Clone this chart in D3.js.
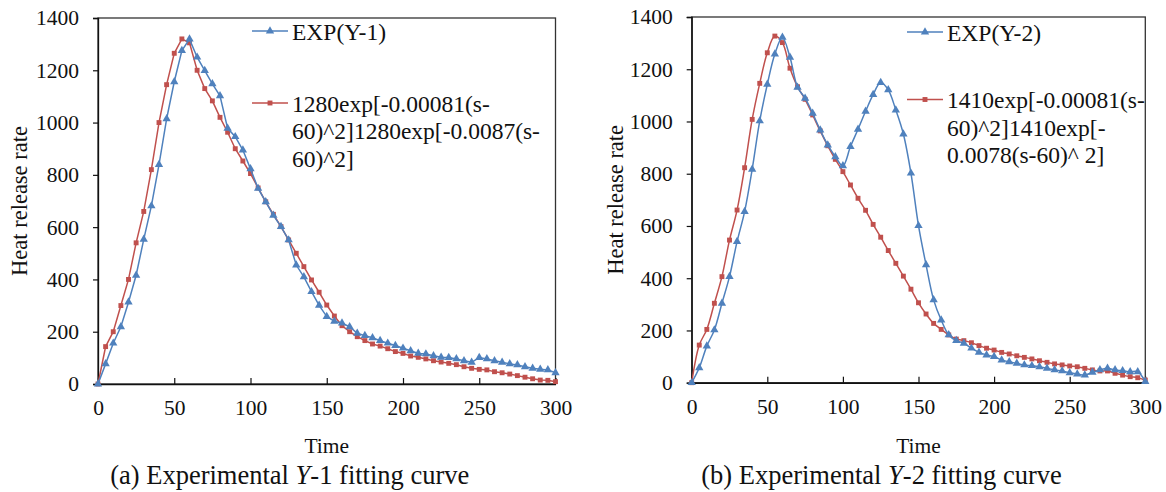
<!DOCTYPE html>
<html>
<head>
<meta charset="utf-8">
<script src="https://cdn.jsdelivr.net/npm/d3@7"></script>
<style>
  html, body { margin: 0; padding: 0; background: #fff; }
  svg { display: block; }
  svg text { font-family: "Liberation Serif", serif !important; fill: #111; }
</style>
</head>
<body>
<svg id="chart" width="1166" height="492" font-family="Liberation Serif"></svg>
<script>
// Time axis (s), sampled every 5 s
const time = [0,5,10,15,20,25,30,35,40,45,50,55,60,65,70,75,80,85,90,95,100,
  105,110,115,120,125,130,135,140,145,150,155,160,165,170,175,180,185,190,195,200,
  205,210,215,220,225,230,235,240,245,250,255,260,265,270,275,280,285,290,295,300];

// Panel (a): measured heat release, test Y-1
const y1Exp = [0,77,156,219,313,416,553,681,839,1014,1156,1275,1319,1250,1199,1148,1102,978,946,895,823,
  748,697,645,602,551,455,410,353,301,258,240,233,219,194,185,177,166,156,147,137,
  127,117,115,108,102,101,96,89,83,101,96,89,83,77,73,66,60,56,54,43];
// Panel (a): fitted curve
const y1Fit = [0,143,200,300,400,540,660,820,1000,1145,1265,1320,1305,1200,1130,1083,1020,963,900,853,805,
  750,697,649,602,551,500,449,398,351,302,260,223,200,181,166,153,145,135,124,117,
  107,102,96,89,84,79,74,66,60,56,54,47,43,38,32,26,20,15,14,9];

// Panel (b): measured heat release, test Y-2
const y2Exp = [0,57,140,202,304,406,540,655,817,1002,1142,1258,1322,1246,1131,1089,1031,967,910,865,830,
  904,970,1039,1103,1149,1121,1044,952,802,601,451,317,240,183,161,151,132,116,106,100,
  87,80,74,68,65,61,55,49,45,38,33,29,40,49,55,49,46,42,42,4];
// Panel (b): fitted curve
const y2Fit = [0,144,204,304,406,546,661,823,1008,1146,1263,1327,1302,1204,1133,1085,1025,964,907,855,808,
  757,706,660,606,557,506,457,408,358,306,263,227,204,183,167,161,153,142,132,125,
  116,110,103,97,91,84,78,72,68,64,61,55,49,45,45,36,29,23,19,10];

const xTicks = [0, 50, 100, 150, 200, 250, 300];
const yTicks = [0, 200, 400, 600, 800, 1000, 1200, 1400];

const xTitle = "Time";
const yTitle = "Heat release rate";

const expLabels = ["EXP(Y-1)", "EXP(Y-2)"];
const fitLabels = [
  ["1280exp[-0.00081(s-", "60)^2]1280exp[-0.0087(s-", "60)^2]"],
  ["1410exp[-0.00081(s-", "60)^2]1410exp[-", "0.0078(s-60)^ 2]"]
];
const captionPrefix = ["(a) Experimental ", "(b) Experimental "];
const captionItalic = ["Y", "Y"];
const captionSuffix = ["-1 fitting curve", "-2 fitting curve"];

const BLUE = "#4F81BD";
const RED = "#C0504D";
const FONT = "Liberation Serif";

const svg = d3.select("#chart");

const panels = [
  { left: 98, right: 555.5, top: 18, bottom: 384, exp: y1Exp, fit: y1Fit,
    curve: d3.curveLinear, titleX: 27, legendX: 252, idx: 0 },
  { left: 691.7, right: 1145.3, top: 17, bottom: 382.7, exp: y2Exp, fit: y2Fit,
    curve: d3.curveCatmullRom.alpha(0.5), titleX: 623, legendX: 907, idx: 1 }
];

panels.forEach(p => {
  const x = d3.scaleLinear().domain([0, 300]).range([p.left, p.right]);
  const y = d3.scaleLinear().domain([0, 1400]).range([p.bottom, p.top]);
  const g = svg.append("g").attr("font-family", FONT);

  // plot frame
  g.append("rect")
    .attr("x", p.left).attr("y", p.top)
    .attr("width", p.right - p.left).attr("height", p.bottom - p.top)
    .attr("fill", "none").attr("stroke", "#333").attr("stroke-width", 1.3);

  // y axis: outward ticks
  const yAxis = g.append("g")
    .attr("transform", `translate(${p.left},0)`)
    .call(d3.axisLeft(y).tickValues(yTicks).tickSize(5).tickPadding(14).tickFormat(d3.format("d")));
  yAxis.attr("font-family", FONT);
  yAxis.select(".domain").attr("stroke", "#111").attr("stroke-width", 1.3);
  yAxis.selectAll(".tick line").attr("stroke", "#111").attr("stroke-width", 1.2);
  yAxis.selectAll("text").attr("font-size", 21.5).attr("fill", "#111");

  // x axis: inward ticks
  const xAxis = g.append("g")
    .attr("transform", `translate(0,${p.bottom})`)
    .call(d3.axisBottom(x).tickValues(xTicks).tickSizeInner(-6).tickSizeOuter(0).tickPadding(16).tickFormat(d3.format("d")));
  xAxis.attr("font-family", FONT);
  xAxis.select(".domain").attr("stroke", "#111").attr("stroke-width", 1.5);
  xAxis.selectAll(".tick line").attr("stroke", "#111").attr("stroke-width", 1.2);
  xAxis.selectAll("text").attr("font-size", 21.5).attr("fill", "#111");

  // axis titles
  const midX = (p.left + p.right) / 2;
  g.append("text").attr("x", midX).attr("y", 453)
    .attr("text-anchor", "middle").attr("font-size", 21.5).text(xTitle);
  g.append("text")
    .attr("transform", `translate(${p.titleX},${(p.top + p.bottom) / 2}) rotate(-90)`)
    .attr("text-anchor", "middle").attr("font-size", 22.5).text(yTitle);

  // caption
  const cap = g.append("text").attr("x", midX - 37).attr("y", 484)
    .attr("text-anchor", "middle").attr("font-size", 26.5);
  cap.append("tspan").text(captionPrefix[p.idx]);
  cap.append("tspan").attr("font-style", "italic").text(captionItalic[p.idx]);
  cap.append("tspan").text(captionSuffix[p.idx]);

  // series
  const rows = time.map((t, i) => ({ t, exp: p.exp[i], fit: p.fit[i] }));
  const series = [
    { key: "fit", color: RED, symbol: d3.symbolSquare, size: 24 },
    { key: "exp", color: BLUE, symbol: d3.symbolTriangle, size: 30 }
  ];
  series.forEach(s => {
    const line = d3.line().x(d => x(d.t)).y(d => y(d[s.key])).curve(p.curve);
    g.append("path").datum(rows)
      .attr("d", line).attr("fill", "none")
      .attr("stroke", s.color).attr("stroke-width", 1.5);
    g.selectAll(null).data(rows).enter().append("path")
      .attr("transform", d => `translate(${x(d.t)},${y(d[s.key])})`)
      .attr("d", d3.symbol().type(s.symbol).size(s.size))
      .attr("fill", s.color);
  });

  // legend
  const lx = p.legendX, lw = 36;
  const blueY = p.idx === 0 ? 31 : 32;
  const redY = p.idx === 0 ? 103 : 99.5;
  const leg = g.append("g");
  leg.append("line").attr("x1", lx).attr("x2", lx + lw).attr("y1", blueY).attr("y2", blueY)
    .attr("stroke", BLUE).attr("stroke-width", 1.5);
  leg.append("path").attr("transform", `translate(${lx + lw / 2},${blueY})`)
    .attr("d", d3.symbol().type(d3.symbolTriangle).size(30)).attr("fill", BLUE);
  leg.append("text").attr("x", lx + lw + 4).attr("y", blueY + 9)
    .attr("font-size", 23.5).text(expLabels[p.idx]);

  leg.append("line").attr("x1", lx).attr("x2", lx + lw).attr("y1", redY).attr("y2", redY)
    .attr("stroke", RED).attr("stroke-width", 1.5);
  leg.append("path").attr("transform", `translate(${lx + lw / 2},${redY})`)
    .attr("d", d3.symbol().type(d3.symbolSquare).size(24)).attr("fill", RED);
  const ft = leg.append("text").attr("x", lx + lw + 4).attr("y", redY + 8.5).attr("font-size", 23.5);
  fitLabels[p.idx].forEach((line, i) => {
    ft.append("tspan").attr("x", lx + lw + 4).attr("dy", i === 0 ? 0 : 27.5).text(line);
  });
});
</script>
</body>
</html>
